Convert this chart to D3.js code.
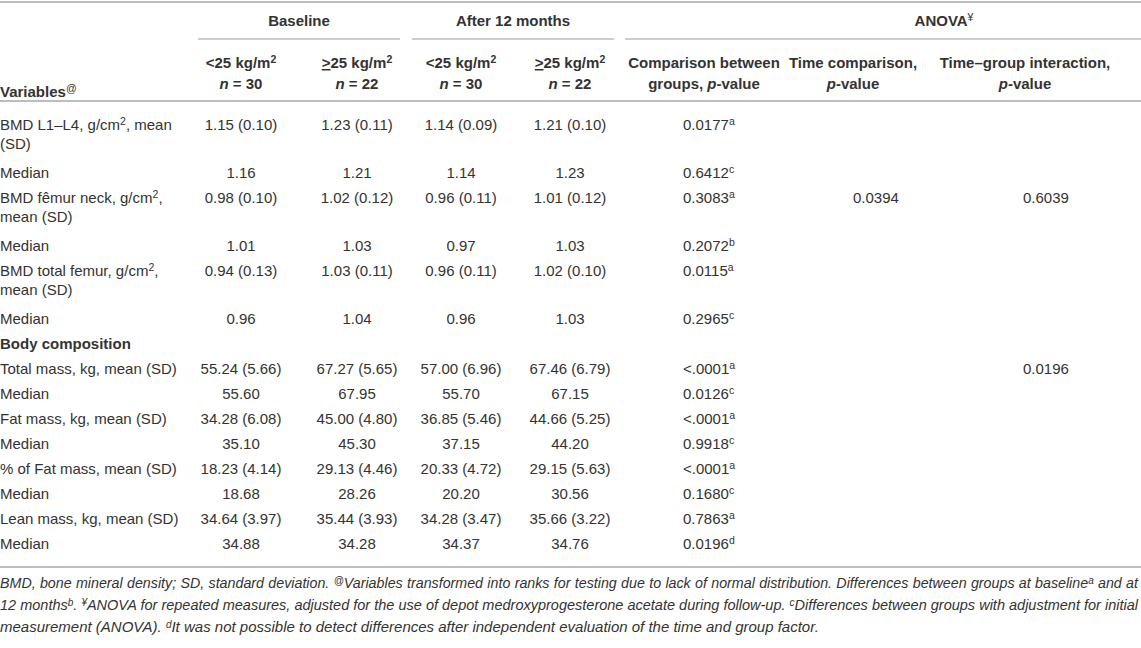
<!DOCTYPE html>
<html>
<head>
<meta charset="utf-8">
<script src="https://cdn.jsdelivr.net/npm/d3@7"></script>
<style>
  body { margin: 0; background: #fff; }
  svg { display: block; font-family: "Liberation Sans", Arial, sans-serif; }
</style>
</head>
<body>
<svg id="table"></svg>
<script>
// column headers
const periods = ['Baseline', 'After 12 months'];
const groupLabels = ['<25 kg/m', '\u226525 kg/m'];
const groupSizes = ['30', '22', '30', '22'];
const anovaHeads = [
  ['Comparison between', 'groups, '],
  ['Time comparison,', ''],
  ['Time\u2013group interaction,', '']
];

// row labels (one entry per printed line, |2| marks the cm² exponent)
const variables = [
  ['BMD L1\u2013L4, g/cm|2|, mean', '(SD)'],
  ['Median'],
  ['BMD f\u00eamur neck, g/cm|2|,', 'mean (SD)'],
  ['Median'],
  ['BMD total femur, g/cm|2|,', 'mean (SD)'],
  ['Median'],
  ['Body composition'],
  ['Total mass, kg, mean (SD)'],
  ['Median'],
  ['Fat mass, kg, mean (SD)'],
  ['Median'],
  ['% of Fat mass, mean (SD)'],
  ['Median'],
  ['Lean mass, kg, mean (SD)'],
  ['Median']
];
const sectionRows = ['Body composition'];

const baseLow = ['1.15 (0.10)', '1.16', '0.98 (0.10)', '1.01', '0.94 (0.13)', '0.96', '',
  '55.24 (5.66)', '55.60', '34.28 (6.08)', '35.10', '18.23 (4.14)', '18.68', '34.64 (3.97)', '34.88'];
const baseHigh = ['1.23 (0.11)', '1.21', '1.02 (0.12)', '1.03', '1.03 (0.11)', '1.04', '',
  '67.27 (5.65)', '67.95', '45.00 (4.80)', '45.30', '29.13 (4.46)', '28.26', '35.44 (3.93)', '34.28'];
const monthLow = ['1.14 (0.09)', '1.14', '0.96 (0.11)', '0.97', '0.96 (0.11)', '0.96', '',
  '57.00 (6.96)', '55.70', '36.85 (5.46)', '37.15', '20.33 (4.72)', '20.20', '34.28 (3.47)', '34.37'];
const monthHigh = ['1.21 (0.10)', '1.23', '1.01 (0.12)', '1.03', '1.02 (0.10)', '1.03', '',
  '67.46 (6.79)', '67.15', '44.66 (5.25)', '44.20', '29.15 (5.63)', '30.56', '35.66 (3.22)', '34.76'];
const pGroups = ['0.0177', '0.6412', '0.3083', '0.2072', '0.0115', '0.2965', '',
  '<.0001', '0.0126', '<.0001', '0.9918', '<.0001', '0.1680', '0.7863', '0.0196'];
const pGroupsNote = ['a', 'c', 'a', 'b', 'a', 'c', '', 'a', 'c', 'a', 'c', 'a', 'c', 'a', 'd'];
const pTime = ['', '', '0.0394', '', '', '', '', '', '', '', '', '', '', '', ''];
const pInteraction = ['', '', '0.6039', '', '', '', '', '0.0196', '', '', '', '', '', '', ''];

const footnotes = [
  [['BMD, bone mineral density; SD, standard deviation. '], ['@', 'sup'],
   ['Variables transformed into ranks for testing due to lack of normal distribution. Differences between groups at baseline'], ['a', 'sup'], [' and at']],
  [['12 months'], ['b', 'sup'], ['. '], ['\u00a5', 'sup'],
   ['ANOVA for repeated measures, adjusted for the use of depot medroxyprogesterone acetate during follow-up. '], ['c', 'sup'],
   ['Differences between groups with adjustment for initial']],
  [['measurement (ANOVA). '], ['d', 'sup'],
   ['It was not possible to detect differences after independent evaluation of the time and group factor.']]
];

const width = 1141;
const height = 648;
const ink = '#333';
const rule = '#bdbdbd';
const fs = 15;

const svg = d3.select('#table')
  .attr('width', width)
  .attr('height', height);

// column positions
const colKeys = ['baseLow', 'baseHigh', 'monthLow', 'monthHigh', 'pGroups', 'pTime', 'pInteraction'];
const colX = d3.scaleOrdinal().domain(colKeys).range([241, 357, 461, 570, 704, 853, 1025]);
const valX = d3.scaleOrdinal().domain(['pGroups', 'pTime', 'pInteraction']).range([683, 853, 1023]);

// row positions: single line rows 25px, each extra line adds 23px
const rowTops = [];
variables.reduce((y, lines) => {
  rowTops.push(y);
  return y + 25 + 23 * (lines.length - 1);
}, 0);
const yScale = d3.scaleLinear().domain([0, 1]).range([130, 131]);

const hline = (x1, x2, y, w) => {
  svg.append('line')
    .attr('x1', x1).attr('x2', x2)
    .attr('y1', y).attr('y2', y)
    .attr('stroke', rule)
    .attr('stroke-width', w);
};

// writes "text|sup|text" pieces into a text element
const richText = (sel, str) => {
  str.split('|').forEach((part, i) => {
    if (!part) return;
    const t = sel.append('tspan').text(part);
    if (i % 2 === 1) t.attr('dy', -5).attr('font-size', fs * 0.7);
    else if (i > 0) t.attr('dy', 5);
  });
};

// header
hline(0, width, 2, 2);
hline(0, width, 101, 2);
hline(0, width, 567, 2);

const periodSpan = [[198, 400], [412, 614]];
periods.forEach((p, i) => {
  svg.append('text')
    .attr('x', (periodSpan[i][0] + periodSpan[i][1]) / 2)
    .attr('y', 26)
    .attr('text-anchor', 'middle')
    .attr('font-weight', 'bold')
    .attr('font-size', fs)
    .attr('fill', ink)
    .text(p);
  hline(periodSpan[i][0], periodSpan[i][1], 39, 1.5);
});

const anova = svg.append('text')
  .attr('x', 944).attr('y', 26)
  .attr('text-anchor', 'middle')
  .attr('font-weight', 'bold')
  .attr('font-size', fs)
  .attr('fill', ink);
anova.append('tspan').text('ANOVA');
anova.append('tspan').text('\u00a5').attr('dy', -5).attr('font-size', fs * 0.7).attr('font-weight', 'normal');
hline(625, width, 39, 1.5);

const varHead = svg.append('text')
  .attr('x', 0).attr('y', 97)
  .attr('font-weight', 'bold')
  .attr('font-size', fs)
  .attr('fill', ink);
varHead.append('tspan').text('Variables');
varHead.append('tspan').text('@').attr('dy', -5).attr('font-size', fs * 0.7).attr('font-weight', 'normal');

colKeys.slice(0, 4).forEach((k, i) => {
  const t1 = svg.append('text')
    .attr('x', colX(k)).attr('y', 68)
    .attr('text-anchor', 'middle')
    .attr('font-weight', 'bold')
    .attr('font-size', fs)
    .attr('fill', ink);
  const lbl = groupLabels[i % 2];
  if (lbl[0] === '\u2265') {
    t1.append('tspan').text('>').attr('text-decoration', 'underline');
    t1.append('tspan').text(lbl.slice(1));
  } else {
    t1.append('tspan').text(lbl);
  }
  t1.append('tspan').text('2').attr('dy', -5).attr('font-size', fs * 0.7);

  const t2 = svg.append('text')
    .attr('x', colX(k)).attr('y', 89)
    .attr('text-anchor', 'middle')
    .attr('font-weight', 'bold')
    .attr('font-size', fs)
    .attr('fill', ink);
  t2.append('tspan').text('n').attr('font-style', 'italic');
  t2.append('tspan').text(' = ' + groupSizes[i]);
});

colKeys.slice(4).forEach((k, i) => {
  const [l1, l2] = anovaHeads[i];
  svg.append('text')
    .attr('x', colX(k)).attr('y', 68)
    .attr('text-anchor', 'middle')
    .attr('font-weight', 'bold')
    .attr('font-size', fs)
    .attr('fill', ink)
    .text(l1);
  const t2 = svg.append('text')
    .attr('x', colX(k)).attr('y', 89)
    .attr('text-anchor', 'middle')
    .attr('font-weight', 'bold')
    .attr('font-size', fs)
    .attr('fill', ink);
  if (l2) t2.append('tspan').text(l2);
  t2.append('tspan').text('p').attr('font-style', 'italic');
  t2.append('tspan').text('-value');
});

// body rows
const columns = { baseLow, baseHigh, monthLow, monthHigh };
const rows = svg.append('g')
  .selectAll('g')
  .data(variables)
  .join('g')
  .attr('transform', (d, i) => `translate(0, ${yScale(0) + rowTops[i]})`);

rows.each(function (lines, i) {
  const g = d3.select(this);
  const isSection = sectionRows.includes(lines[0]);
  lines.forEach((line, j) => {
    const t = g.append('text')
      .attr('x', 0).attr('y', j * 19)
      .attr('font-size', fs)
      .attr('font-weight', isSection ? 'bold' : 'normal')
      .attr('fill', ink);
    richText(t, line);
  });
  Object.keys(columns).forEach(k => {
    g.append('text')
      .attr('x', colX(k)).attr('y', 0)
      .attr('text-anchor', 'middle')
      .attr('font-size', fs)
      .attr('fill', ink)
      .text(columns[k][i]);
  });
  if (pGroups[i]) {
    const t = g.append('text')
      .attr('x', valX('pGroups')).attr('y', 0)
      .attr('font-size', fs)
      .attr('fill', ink);
    t.append('tspan').text(pGroups[i]);
    t.append('tspan').text(pGroupsNote[i]).attr('dy', -5).attr('font-size', fs * 0.7);
  }
  [['pTime', pTime], ['pInteraction', pInteraction]].forEach(([k, arr]) => {
    if (!arr[i]) return;
    g.append('text')
      .attr('x', valX(k)).attr('y', 0)
      .attr('font-size', fs)
      .attr('fill', ink)
      .text(arr[i]);
  });
});

// footnotes, first two lines justified by word spacing
const footW = width - 3;
const footSize = 15;
footnotes.forEach((parts, i) => {
  const t = svg.append('text')
    .attr('x', 0).attr('y', 588 + i * 22)
    .attr('font-family', '"Liberation Sans Narrow", "Liberation Sans", Arial, sans-serif')
    .attr('font-size', footSize)
    .attr('font-style', 'italic')
    .attr('fill', ink);
  let up = false;
  parts.forEach(([txt, kind]) => {
    const s = t.append('tspan').text(txt);
    if (kind === 'sup') {
      s.attr('dy', -4).attr('font-size', 10);
      up = true;
    } else if (up) {
      s.attr('dy', 4);
      up = false;
    }
  });
  if (i < 2) {
    let size = footSize;
    while (t.node().getComputedTextLength() > footW && size > 10) {
      size -= 0.25;
      t.attr('font-size', size);
    }
    const spaces = parts.map(p => p[0]).join('').split(' ').length - 1;
    const gap = (footW - t.node().getComputedTextLength()) / spaces;
    t.attr('word-spacing', gap);
  }
});
</script>
</body>
</html>
